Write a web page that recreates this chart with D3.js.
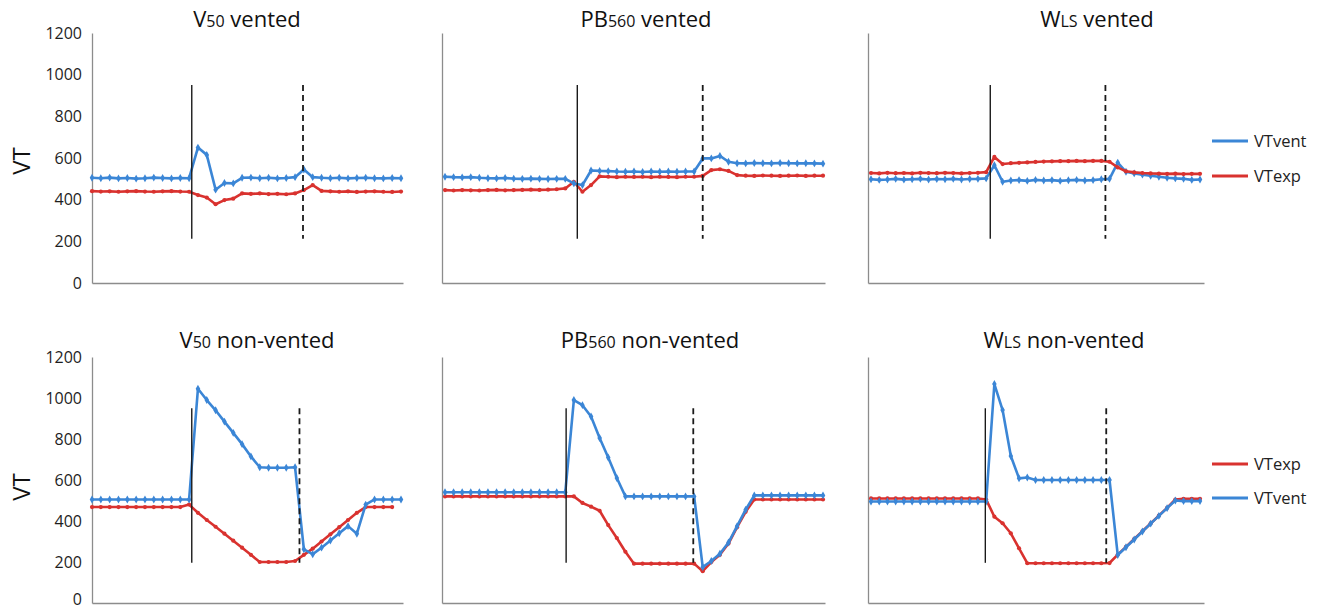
<!DOCTYPE html>
<html>
<head>
<meta charset="utf-8">
<script src="https://cdn.jsdelivr.net/npm/d3@7"></script>
<style>
	body { margin: 0; background: #fff; }
	svg { font-family: "Open Sans", Lato, sans-serif; }
</style>
</head>
<body>
<svg id="chart" width="1324" height="609"></svg>
<script>

	/* tidal volume traces, VTvent (blue) and VTexp (red), six settings */

	var yTicks = [0, 200, 400, 600, 800, 1000, 1200];

	// V50 vented
	var v50VentedVent = [505, 503, 506, 502, 504, 501, 503, 506, 504, 502, 504, 503, 650, 615, 448, 480, 478, 505, 506, 503, 505, 502, 504, 508, 545, 508, 505, 503, 505, 502, 504, 505, 503, 502, 504, 503];
	var v50VentedExp = [441, 439, 440, 438, 440, 441, 439, 438, 440, 441, 439, 438, 422, 410, 378, 398, 405, 430, 428, 430, 427, 428, 426, 430, 446, 470, 442, 440, 438, 440, 437, 439, 440, 438, 437, 439];

	// PB560 vented
	var pb560VentedVent = [510, 508, 507, 508, 505, 503, 502, 504, 501, 500, 501, 500, 499, 500, 500, 478, 470, 540, 538, 537, 535, 534, 535, 533, 535, 534, 535, 534, 535, 535, 598, 598, 610, 582, 575, 574, 576, 575, 574, 576, 575, 574, 575, 574, 573];
	var pb560VentedExp = [446, 444, 446, 445, 444, 446, 447, 445, 446, 447, 448, 447, 448, 450, 454, 486, 438, 470, 512, 510, 508, 510, 509, 510, 508, 510, 509, 508, 510, 510, 514, 542, 546, 538, 518, 515, 514, 516, 515, 514, 515, 516, 514, 515, 515];

	// WLS vented
	var wlsVentedVent = [498, 495, 497, 500, 496, 498, 500, 497, 499, 498, 500, 497, 499, 500, 502, 565, 486, 492, 494, 490, 495, 492, 494, 490, 493, 495, 492, 494, 498, 500, 578, 534, 526, 520, 515, 510, 505, 502, 500, 495, 497];
	var wlsVentedExp = [528, 526, 529, 527, 528, 526, 529, 528, 527, 529, 528, 526, 528, 529, 532, 605, 571, 575, 577, 579, 581, 583, 584, 585, 585, 586, 585, 586, 586, 582, 555, 536, 531, 528, 526, 525, 524, 525, 523, 524, 524];

	// V50 non-vented
	var v50NonVent = [505, 505, 505, 505, 505, 505, 505, 505, 505, 505, 505, 505, 1045, 990, 940, 885, 830, 775, 715, 662, 660, 660, 660, 662, 262, 238, 270, 305, 340, 375, 338, 480, 505, 505, 505, 505];
	var v50NonExp = [468, 468, 468, 468, 468, 468, 468, 468, 468, 468, 468, 480, 440, 405, 372, 338, 304, 270, 235, 200, 200, 200, 200, 205, 235, 265, 300, 335, 370, 405, 440, 468, 468, 468, 468];

	// PB560 non-vented
	var pb560NonVent = [540, 540, 540, 540, 540, 540, 540, 540, 540, 540, 540, 540, 540, 540, 540, 990, 965, 910, 805, 710, 610, 520, 520, 520, 520, 520, 520, 520, 520, 520, 175, 205, 240, 295, 375, 455, 525, 525, 525, 525, 525, 525, 525, 525, 525];
	var pb560NonExp = [520, 520, 520, 520, 520, 520, 520, 520, 520, 520, 520, 520, 520, 520, 520, 520, 488, 470, 450, 380, 317, 250, 192, 192, 192, 192, 192, 192, 192, 192, 155, 200, 235, 290, 370, 445, 505, 505, 505, 505, 505, 505, 505, 505, 505];

	// WLS non-vented
	var wlsNonVent = [495, 495, 495, 495, 495, 495, 495, 495, 495, 495, 495, 495, 495, 495, 495, 1068, 941, 717, 608, 612, 600, 600, 600, 600, 600, 600, 600, 600, 600, 600, 234, 272, 310, 349, 387, 425, 463, 500, 497, 497, 497];
	var wlsNonExp = [510, 510, 510, 510, 510, 510, 510, 510, 510, 510, 510, 510, 510, 510, 505, 421, 389, 340, 267, 194, 194, 194, 194, 194, 194, 194, 194, 194, 194, 195, 236, 274, 312, 350, 388, 426, 464, 505, 508, 508, 508];

	// start / end of the manoeuvre, read in sample index units
	var solidCuts = [11.3, 15.4, 14.5, 11.3, 14.1, 13.9];
	var dashCuts = [23.9, 30.0, 28.5, 23.5, 28.9, 28.6];

	var blue = "#3b86d6";
	var red = "#d9322f";

	var svg = d3.select("#chart");

	var cols = [
		{left: 92, right: 403, d0: 92, d1: 401},
		{left: 442, right: 825, d0: 445, d1: 823},
		{left: 868, right: 1204, d0: 871, d1: 1200}
	];
	var rows = [
		{bottom: 283, top: 33, titleY: 27, cutLow: 212, labelY: 161},
		{bottom: 603, top: 357, titleY: 348, cutLow: 196, labelY: 487}
	];

	var panels = [
		{main: "V", sub: "50", rest: " vented", series: [{name: "VTexp", v: v50VentedExp, c: red}, {name: "VTvent", v: v50VentedVent, c: blue}], titleX: 247},
		{main: "PB", sub: "560", rest: " vented", series: [{name: "VTexp", v: pb560VentedExp, c: red}, {name: "VTvent", v: pb560VentedVent, c: blue}], titleX: 646},
		{main: "W", sub: "LS", rest: " vented", series: [{name: "VTvent", v: wlsVentedVent, c: blue}, {name: "VTexp", v: wlsVentedExp, c: red}], titleX: 1097, legend: [141, 176]},
		{main: "V", sub: "50", rest: " non-vented", series: [{name: "VTexp", v: v50NonExp, c: red}, {name: "VTvent", v: v50NonVent, c: blue}], titleX: 257},
		{main: "PB", sub: "560", rest: " non-vented", series: [{name: "VTexp", v: pb560NonExp, c: red}, {name: "VTvent", v: pb560NonVent, c: blue}], titleX: 650},
		{main: "W", sub: "LS", rest: " non-vented", series: [{name: "VTexp", v: wlsNonExp, c: red}, {name: "VTvent", v: wlsNonVent, c: blue}], titleX: 1064, legend: [464, 498]}
	];

	for (var p = 0; p < panels.length; p++) {
		var pan = panels[p];
		var row = rows[Math.floor(p / 3)];
		var col = cols[p % 3];
		var g = svg.append("g").attr("class", "panel");

		var n = d3.max(pan.series, function(s) {return s.v.length;});
		var x = d3.scaleLinear().domain([0, n - 1]).range([col.d0, col.d1]);
		var y = d3.scaleLinear().domain([0, 1200]).range([row.bottom, row.top]);

		// y axis, labels only on the first column
		var yAxis = g.append("g")
			.attr("transform", "translate(" + col.left + ",0)")
			.call(d3.axisLeft(y)
				.tickValues(p % 3 == 0 ? yTicks : [])
				.tickFormat(d3.format("d"))
				.tickSize(0).tickSizeOuter(0).tickPadding(10));
		yAxis.select(".domain").attr("stroke", "#8c8c8c").attr("stroke-width", 1.3);
		yAxis.selectAll("text")
			.attr("font-size", 16)
			.attr("fill", "#1e1e1e")
			.attr("font-family", "Open Sans")
			.attr("dy", function(d) {return d == 0 && p > 2 ? "0.1em" : "0.32em";});

		// x axis, no ticks
		var xAxisScale = d3.scaleLinear().domain([0, 1]).range([col.left, col.right]);
		var xAxis = g.append("g")
			.attr("transform", "translate(0," + y(0) + ")")
			.call(d3.axisBottom(xAxisScale).tickValues([]).tickSizeOuter(0));
		xAxis.select(".domain").attr("stroke", "#8c8c8c").attr("stroke-width", 1.3);

		if (p % 3 == 0) {
			g.append("text")
				.attr("transform", "translate(30," + row.labelY + ") rotate(-90)")
				.attr("text-anchor", "middle")
				.attr("font-size", 24)
				.attr("fill", "#111")
				.text("VT");
		}

		// title with small subscript
		var t = g.append("text")
			.attr("x", pan.titleX)
			.attr("y", row.titleY)
			.attr("text-anchor", "middle")
			.attr("font-size", 22)
			.attr("fill", "#111");
		t.append("tspan").text(pan.main);
		t.append("tspan").attr("font-size", 16).text(pan.sub);
		t.append("tspan").text(pan.rest);

		var line = d3.line()
			.x(function(d, i) {return x(i);})
			.y(function(d) {return y(d);});

		for (var s = 0; s < pan.series.length; s++) {
			var ser = pan.series[s];
			g.append("path")
				.datum(ser.v)
				.attr("d", line)
				.attr("fill", "none")
				.attr("stroke", ser.c)
				.attr("stroke-width", 2.6)
				.attr("stroke-linejoin", "round");
			if (ser.name == "VTvent") {
				g.append("g").selectAll("path")
					.data(ser.v)
					.enter()
					.append("path")
					.attr("d", d3.symbol().type(d3.symbolDiamond).size(18))
					.attr("transform", function(d, i) {return "translate(" + x(i) + "," + y(d) + ")";})
					.attr("fill", ser.c);
			} else {
				g.append("g").selectAll("circle")
					.data(ser.v)
					.enter()
					.append("circle")
					.attr("cx", function(d, i) {return x(i);})
					.attr("cy", function(d) {return y(d);})
					.attr("r", 2.1)
					.attr("fill", ser.c);
			}
		}

		// event markers
		g.append("line")
			.attr("x1", x(solidCuts[p])).attr("x2", x(solidCuts[p]))
			.attr("y1", y(950)).attr("y2", y(row.cutLow))
			.attr("stroke", "#1a1a1a")
			.attr("stroke-width", 1.4);
		g.append("line")
			.attr("x1", x(dashCuts[p])).attr("x2", x(dashCuts[p]))
			.attr("y1", y(950)).attr("y2", y(row.cutLow))
			.attr("stroke", "#1a1a1a")
			.attr("stroke-width", 1.8)
			.attr("stroke-dasharray", "6,4");

		if (pan.legend) {
			var lg = g.append("g");
			for (var l = 0; l < pan.series.length; l++) {
				var ls = pan.series[l];
				var ly = pan.legend[l];
				lg.append("line")
					.attr("x1", 1212).attr("x2", 1248)
					.attr("y1", ly).attr("y2", ly)
					.attr("stroke", ls.c)
					.attr("stroke-width", 2.8);
				lg.append("text")
					.attr("x", 1254)
					.attr("y", ly + 6)
					.attr("font-size", 16.5)
					.attr("fill", "#222")
					.text(ls.name);
			}
		}
	}

</script>
</body>
</html>
